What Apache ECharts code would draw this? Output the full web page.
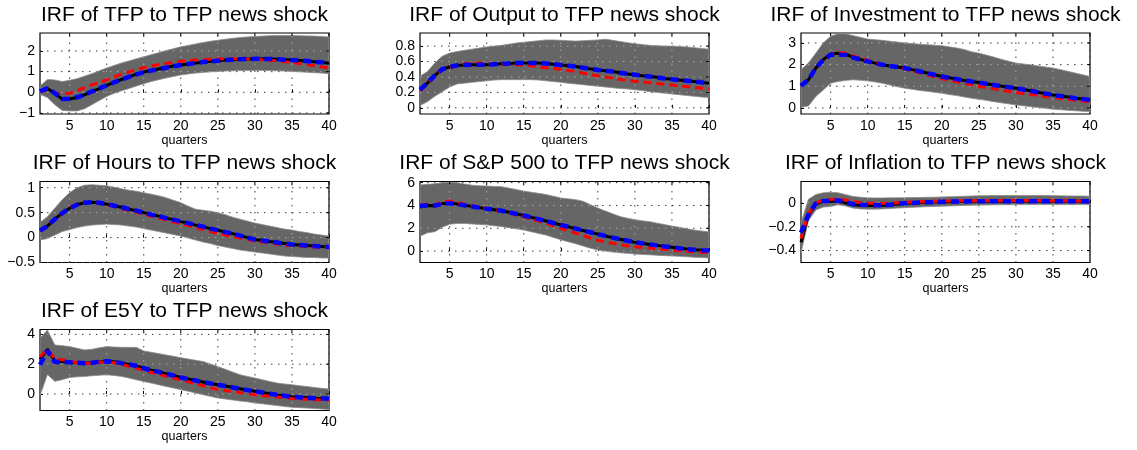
<!DOCTYPE html>
<html><head><meta charset="utf-8">
<script src="https://cdn.jsdelivr.net/npm/echarts@6/dist/echarts.min.js"></script>
<style>html,body{margin:0;padding:0;background:#fff}#c{width:1137px;height:450px}</style>
</head><body><div id="c"></div>
<script>
// ---------- data ----------
const quarters = [1,2,3,4,5,6,7,8,9,10,11,12,13,14,15,16,17,18,19,20,21,22,23,24,25,26,27,28,29,30,31,32,33,34,35,36,37,38,39,40];
const xTicks = [5,10,15,20,25,30,35,40];

const tfpPoint  = [0.05,0.18,-0.05,-0.33,-0.32,-0.25,-0.12,0.03,0.18,0.33,0.48,0.62,0.75,0.88,0.98,1.06,1.13,1.20,1.27,1.32,1.37,1.42,1.46,1.50,1.53,1.56,1.58,1.60,1.61,1.62,1.62,1.61,1.60,1.58,1.56,1.54,1.51,1.48,1.45,1.41];
const tfpMedian = [0.05,0.19,-0.04,-0.32,-0.31,-0.24,-0.11,0.04,0.19,0.34,0.48,0.62,0.75,0.87,0.97,1.05,1.12,1.19,1.26,1.32,1.37,1.42,1.46,1.50,1.53,1.56,1.58,1.60,1.61,1.62,1.62,1.61,1.60,1.58,1.56,1.54,1.51,1.48,1.45,1.41];
const tfpAlt    = [0.05,0.12,-0.02,-0.10,-0.04,0.08,0.22,0.36,0.48,0.60,0.74,0.88,0.99,1.10,1.19,1.27,1.34,1.40,1.45,1.50,1.53,1.56,1.58,1.60,1.61,1.62,1.62,1.62,1.61,1.60,1.58,1.55,1.52,1.48,1.44,1.39,1.34,1.29,1.23,1.18];
const tfpHi     = [0.30,0.62,0.60,0.52,0.58,0.66,0.78,0.90,1.04,1.18,1.30,1.42,1.52,1.62,1.72,1.82,1.92,2.02,2.11,2.20,2.27,2.34,2.41,2.47,2.52,2.57,2.61,2.65,2.68,2.70,2.72,2.74,2.75,2.75,2.75,2.74,2.73,2.72,2.70,2.68];
const tfpLo     = [-0.10,-0.25,-0.60,-0.88,-0.90,-0.90,-0.80,-0.60,-0.40,-0.20,-0.05,0.07,0.18,0.30,0.42,0.52,0.61,0.69,0.77,0.84,0.89,0.93,0.96,0.99,1.01,1.03,1.04,1.05,1.06,1.06,1.06,1.05,1.04,1.03,1.01,0.99,0.97,0.95,0.93,0.90];
const tfpYTicks = [-1,0,1,2];

const outPoint  = [0.235,0.32,0.42,0.50,0.53,0.55,0.555,0.56,0.56,0.56,0.565,0.57,0.575,0.58,0.58,0.58,0.58,0.575,0.565,0.555,0.545,0.535,0.52,0.505,0.49,0.48,0.47,0.455,0.44,0.43,0.415,0.405,0.395,0.38,0.37,0.36,0.35,0.34,0.33,0.32];
const outMedian = [0.235,0.32,0.42,0.50,0.53,0.55,0.555,0.56,0.56,0.56,0.565,0.57,0.575,0.58,0.58,0.58,0.58,0.575,0.565,0.555,0.545,0.535,0.52,0.505,0.49,0.48,0.47,0.455,0.44,0.43,0.415,0.405,0.395,0.38,0.37,0.36,0.35,0.34,0.33,0.32];
const outAlt    = [0.22,0.31,0.42,0.49,0.52,0.55,0.57,0.58,0.58,0.575,0.57,0.565,0.565,0.56,0.555,0.545,0.53,0.52,0.51,0.50,0.485,0.47,0.45,0.43,0.415,0.40,0.385,0.37,0.355,0.345,0.335,0.325,0.315,0.305,0.295,0.285,0.275,0.265,0.255,0.245];
const outHi     = [0.41,0.47,0.58,0.67,0.71,0.73,0.745,0.76,0.775,0.79,0.80,0.81,0.825,0.84,0.85,0.86,0.87,0.88,0.88,0.875,0.87,0.865,0.87,0.875,0.88,0.89,0.875,0.86,0.845,0.83,0.82,0.81,0.805,0.80,0.80,0.795,0.79,0.78,0.77,0.76];
const outLo     = [0.03,0.08,0.15,0.21,0.27,0.31,0.32,0.33,0.34,0.35,0.36,0.365,0.365,0.365,0.365,0.365,0.36,0.35,0.34,0.33,0.32,0.31,0.30,0.29,0.28,0.27,0.26,0.25,0.245,0.235,0.225,0.21,0.20,0.19,0.18,0.17,0.16,0.15,0.14,0.135];
const outYTicks = [0,0.2,0.4,0.6,0.8];

const invPoint  = [1.02,1.30,1.84,2.23,2.49,2.53,2.49,2.35,2.24,2.15,2.07,1.99,1.94,1.89,1.84,1.77,1.69,1.61,1.53,1.45,1.39,1.33,1.27,1.22,1.17,1.12,1.06,1.01,0.96,0.91,0.85,0.79,0.72,0.66,0.60,0.55,0.50,0.45,0.41,0.37];
const invMedian = [1.02,1.30,1.84,2.22,2.45,2.46,2.45,2.33,2.24,2.15,2.07,1.99,1.94,1.89,1.84,1.77,1.69,1.61,1.53,1.45,1.39,1.33,1.27,1.22,1.17,1.12,1.06,1.01,0.96,0.91,0.85,0.79,0.72,0.66,0.60,0.55,0.50,0.45,0.41,0.37];
const invAlt    = [1.02,1.35,1.85,2.20,2.45,2.57,2.52,2.40,2.30,2.20,2.10,2.02,1.95,1.88,1.80,1.71,1.62,1.53,1.44,1.35,1.28,1.21,1.14,1.07,1.00,0.94,0.88,0.82,0.77,0.72,0.67,0.62,0.58,0.53,0.48,0.44,0.40,0.36,0.32,0.28];
const invHi     = [1.76,2.07,2.53,3.00,3.31,3.42,3.42,3.34,3.26,3.18,3.15,3.12,3.08,3.04,3.00,2.97,2.94,2.92,2.90,2.87,2.82,2.77,2.70,2.60,2.53,2.44,2.35,2.25,2.16,2.07,2.03,1.99,1.94,1.89,1.84,1.77,1.69,1.61,1.53,1.45];
const invLo     = [0.03,0.09,0.53,0.83,1.14,1.22,1.27,1.30,1.28,1.25,1.20,1.14,1.06,0.98,0.91,0.86,0.81,0.77,0.72,0.68,0.62,0.57,0.51,0.45,0.40,0.35,0.29,0.24,0.19,0.14,0.10,0.06,0.02,-0.02,-0.06,-0.08,-0.11,-0.13,-0.15,-0.17];
const invYTicks = [0,1,2,3];

const hrsPoint  = [0.14,0.23,0.37,0.49,0.59,0.66,0.70,0.71,0.70,0.67,0.64,0.61,0.57,0.54,0.50,0.46,0.43,0.39,0.36,0.32,0.29,0.25,0.22,0.18,0.15,0.11,0.08,0.04,0.00,-0.04,-0.06,-0.08,-0.10,-0.12,-0.14,-0.15,-0.16,-0.17,-0.18,-0.19];
const hrsMedian = [0.14,0.23,0.37,0.49,0.59,0.66,0.70,0.71,0.70,0.67,0.64,0.61,0.57,0.54,0.50,0.46,0.43,0.39,0.36,0.32,0.29,0.25,0.22,0.18,0.15,0.11,0.08,0.04,0.00,-0.04,-0.06,-0.08,-0.10,-0.12,-0.14,-0.15,-0.16,-0.17,-0.18,-0.19];
const hrsAlt    = [0.13,0.23,0.38,0.50,0.60,0.67,0.70,0.71,0.69,0.66,0.62,0.58,0.55,0.51,0.47,0.43,0.39,0.35,0.31,0.28,0.24,0.20,0.16,0.12,0.08,0.05,0.02,-0.01,-0.04,-0.07,-0.09,-0.11,-0.13,-0.15,-0.16,-0.17,-0.18,-0.19,-0.19,-0.19];
const hrsHi     = [0.30,0.42,0.59,0.76,0.90,1.00,1.05,1.06,1.05,1.04,1.01,0.98,0.95,0.93,0.90,0.87,0.84,0.80,0.75,0.70,0.63,0.57,0.55,0.53,0.50,0.46,0.41,0.37,0.33,0.29,0.26,0.23,0.20,0.17,0.15,0.12,0.10,0.07,0.05,0.03];
const hrsLo     = [-0.05,-0.02,0.05,0.12,0.16,0.20,0.23,0.25,0.26,0.27,0.26,0.25,0.23,0.21,0.18,0.15,0.12,0.09,0.06,0.03,-0.01,-0.05,-0.09,-0.12,-0.16,-0.19,-0.22,-0.25,-0.27,-0.29,-0.31,-0.33,-0.35,-0.37,-0.38,-0.39,-0.40,-0.40,-0.41,-0.41];
const hrsYTicks = [-0.5,0,0.5,1];

const spPoint  = [3.86,4.00,3.98,4.16,4.22,4.13,4.02,3.92,3.81,3.71,3.62,3.53,3.40,3.26,3.12,2.96,2.80,2.64,2.46,2.29,2.13,1.97,1.81,1.65,1.49,1.33,1.18,1.04,0.90,0.78,0.68,0.58,0.50,0.41,0.33,0.25,0.18,0.12,0.08,0.06];
const spMedian = [3.95,4.02,3.99,4.15,4.20,4.12,4.01,3.91,3.81,3.71,3.62,3.53,3.40,3.26,3.12,2.96,2.80,2.64,2.46,2.29,2.13,1.97,1.81,1.65,1.49,1.33,1.18,1.04,0.90,0.78,0.68,0.58,0.50,0.41,0.33,0.25,0.18,0.12,0.08,0.06];
const spAlt    = [4.05,4.10,4.05,4.30,4.40,4.25,4.10,4.00,3.87,3.75,3.62,3.50,3.34,3.17,3.00,2.82,2.63,2.45,2.22,2.00,1.78,1.57,1.38,1.15,0.95,0.82,0.68,0.55,0.46,0.38,0.32,0.26,0.20,0.14,0.08,0.03,-0.02,-0.06,-0.10,-0.13];
const spHi     = [5.79,5.85,5.90,6.00,6.05,6.00,5.88,5.78,5.72,5.70,5.67,5.64,5.52,5.39,5.26,5.16,5.06,4.96,4.81,4.66,4.58,4.51,4.37,4.07,3.77,3.52,3.27,3.03,2.88,2.75,2.65,2.58,2.45,2.32,2.20,2.08,1.96,1.84,1.76,1.68];
const spLo     = [1.30,1.60,1.70,2.10,2.35,2.42,2.42,2.38,2.34,2.30,2.22,2.15,2.05,1.95,1.85,1.70,1.55,1.40,1.20,1.00,0.82,0.65,0.45,0.25,0.10,0.00,-0.08,-0.15,-0.20,-0.25,-0.29,-0.33,-0.37,-0.40,-0.43,-0.46,-0.50,-0.54,-0.57,-0.60];
const spYTicks = [0,2,4,6];

const inflPoint  = [-0.33,-0.10,-0.01,0.015,0.012,0.02,0.0,-0.015,-0.02,-0.022,-0.022,-0.02,-0.015,-0.008,-0.003,0.0,0.003,0.005,0.007,0.009,0.011,0.012,0.013,0.014,0.015,0.015,0.015,0.015,0.015,0.015,0.015,0.015,0.015,0.015,0.015,0.015,0.015,0.015,0.015,0.015];
const inflMedian = [-0.25,-0.10,-0.005,0.017,0.015,0.02,0.005,-0.01,-0.015,-0.018,-0.02,-0.02,-0.015,-0.008,-0.003,0.0,0.003,0.005,0.007,0.009,0.011,0.012,0.013,0.014,0.015,0.015,0.015,0.015,0.015,0.015,0.015,0.015,0.015,0.015,0.015,0.015,0.015,0.015,0.015,0.015];
const inflAlt    = [-0.30,-0.09,0.0,0.022,0.028,0.034,0.025,0.012,0.003,0.0,-0.004,-0.005,-0.003,0.001,0.005,0.008,0.01,0.012,0.014,0.015,0.016,0.017,0.018,0.019,0.019,0.02,0.02,0.02,0.02,0.02,0.02,0.02,0.02,0.019,0.019,0.018,0.018,0.017,0.016,0.015];
const inflHi     = [-0.17,0.03,0.07,0.085,0.09,0.085,0.07,0.055,0.048,0.043,0.042,0.042,0.043,0.043,0.044,0.045,0.046,0.047,0.048,0.05,0.052,0.054,0.056,0.058,0.06,0.061,0.062,0.062,0.063,0.063,0.063,0.063,0.062,0.062,0.061,0.06,0.059,0.058,0.058,0.057];
const inflLo     = [-0.42,-0.15,-0.06,-0.035,-0.03,-0.015,-0.025,-0.043,-0.05,-0.052,-0.052,-0.05,-0.047,-0.043,-0.04,-0.037,-0.034,-0.031,-0.029,-0.027,-0.025,-0.023,-0.021,-0.019,-0.018,-0.017,-0.016,-0.015,-0.015,-0.014,-0.014,-0.014,-0.014,-0.014,-0.014,-0.014,-0.014,-0.014,-0.014,-0.014];
const inflYTicks = [-0.4,-0.2,0];

const e5Point  = [2.33,3.00,2.22,2.18,2.15,2.10,2.07,2.10,2.15,2.20,2.17,2.07,1.98,1.89,1.73,1.60,1.48,1.36,1.24,1.11,1.00,0.90,0.80,0.71,0.62,0.53,0.44,0.35,0.26,0.18,0.10,0.02,-0.06,-0.12,-0.18,-0.22,-0.25,-0.28,-0.30,-0.31];
const e5Median = [1.96,2.90,2.15,2.15,2.13,2.09,2.07,2.10,2.15,2.20,2.17,2.07,1.98,1.89,1.73,1.60,1.48,1.36,1.24,1.11,1.00,0.90,0.80,0.71,0.62,0.53,0.44,0.35,0.26,0.18,0.10,0.02,-0.06,-0.12,-0.18,-0.22,-0.25,-0.28,-0.30,-0.31];
const e5Alt    = [2.50,3.00,2.35,2.30,2.20,2.12,2.05,2.08,2.13,2.15,2.10,2.00,1.85,1.72,1.60,1.46,1.33,1.20,1.07,0.95,0.82,0.69,0.56,0.43,0.30,0.23,0.16,0.09,0.02,-0.05,-0.10,-0.15,-0.20,-0.25,-0.30,-0.33,-0.36,-0.38,-0.40,-0.42];
const e5Hi     = [3.73,4.29,3.29,3.24,3.18,3.07,2.96,3.00,3.10,3.18,3.15,3.13,3.13,3.13,2.89,2.80,2.71,2.62,2.53,2.44,2.35,2.26,2.18,2.01,1.84,1.66,1.47,1.29,1.18,1.07,0.96,0.84,0.73,0.67,0.62,0.56,0.50,0.44,0.38,0.33];
const e5Lo     = [-0.10,1.30,0.85,0.96,1.11,1.15,1.18,1.22,1.26,1.29,1.24,1.18,1.07,0.95,0.84,0.73,0.62,0.51,0.40,0.29,0.18,0.07,-0.05,-0.16,-0.27,-0.34,-0.40,-0.47,-0.53,-0.60,-0.66,-0.72,-0.78,-0.84,-0.89,-0.92,-0.95,-0.98,-1.01,-1.04];
const e5YTicks = [0,2,4];

// ---------- layout ----------
const FONT = '"Liberation Sans", Arial, Helvetica, sans-serif';
const colLeft = [40, 420, 801];
const rowTop = [33, 181.5, 329.5];
const titleTop = [4.5, 153, 301];
const PW = 289, PH = 81;

const panels = [
  {title:'IRF of TFP to TFP news shock', c:0, r:0, point:tfpPoint, median:tfpMedian, alt:tfpAlt, hi:tfpHi, lo:tfpLo, yTicks:tfpYTicks, yMin:-1.05, yMax:2.87},
  {title:'IRF of Output to TFP news shock', c:1, r:0, point:outPoint, median:outMedian, alt:outAlt, hi:outHi, lo:outLo, yTicks:outYTicks, yMin:-0.08, yMax:0.97},
  {title:'IRF of Investment to TFP news shock', c:2, r:0, point:invPoint, median:invMedian, alt:invAlt, hi:invHi, lo:invLo, yTicks:invYTicks, yMin:-0.28, yMax:3.46},
  {title:'IRF of Hours to TFP news shock', c:0, r:1, point:hrsPoint, median:hrsMedian, alt:hrsAlt, hi:hrsHi, lo:hrsLo, yTicks:hrsYTicks, yMin:-0.5, yMax:1.125},
  {title:'IRF of S&P 500 to TFP news shock', c:1, r:1, point:spPoint, median:spMedian, alt:spAlt, hi:spHi, lo:spLo, yTicks:spYTicks, yMin:-1.0, yMax:6.1},
  {title:'IRF of Inflation to TFP news shock', c:2, r:1, point:inflPoint, median:inflMedian, alt:inflAlt, hi:inflHi, lo:inflLo, yTicks:inflYTicks, yMin:-0.5, yMax:0.18},
  {title:'IRF of E5Y to TFP news shock', c:0, r:2, point:e5Point, median:e5Median, alt:e5Alt, hi:e5Hi, lo:e5Lo, yTicks:e5YTicks, yMin:-1.11, yMax:4.33}
];

const minus = v => String(v).replace('-', '\u2212');
const pairs = arr => quarters.map((q, i) => [q, arr[i]]);
const DOTS = [1.5, 5.5];

const option = {animation:false, backgroundColor:'#fff', title:[], grid:[], xAxis:[], yAxis:[], series:[]};

panels.forEach((p, i) => {
  const left = colLeft[p.c], top = rowTop[p.r];
  option.title.push({text:p.title, left:left + PW/2, top:titleTop[p.r], textAlign:'center', padding:0,
    textStyle:{fontFamily:FONT, fontSize:21, fontWeight:'normal', color:'#000'}});
  option.grid.push({left:left, top:top, width:PW, height:PH, show:true, borderColor:'#000', borderWidth:1.2, containLabel:false});
  option.xAxis.push({gridIndex:i, type:'value', min:1, max:40,
    axisLine:{show:false}, splitLine:{show:false},
    axisTick:{show:true, inside:true, length:3, customValues:xTicks, lineStyle:{color:'#000'}},
    axisLabel:{customValues:xTicks, fontFamily:FONT, fontSize:14, color:'#000', margin:5},
    name:'quarters', nameLocation:'middle', nameGap:19,
    nameTextStyle:{fontFamily:FONT, fontSize:12.5, color:'#000'}});
  option.yAxis.push({gridIndex:i, type:'value', min:p.yMin, max:p.yMax,
    axisLine:{show:false}, splitLine:{show:false},
    axisTick:{show:true, inside:true, length:3, customValues:p.yTicks, lineStyle:{color:'#000'}},
    axisLabel:{customValues:p.yTicks, fontFamily:FONT, fontSize:14, color:'#000', margin:5, formatter:minus}});
  // grid dots + confidence band (polygon through the axis scales) + inner ticks on top/right
  option.series.push({type:'custom', xAxisIndex:i, yAxisIndex:i, silent:true, z:2, clip:false,
    data:[[quarters[0], p.lo[0]]], encode:{x:0, y:1},
    renderItem:(params, api) => {
      const bl = api.coord([1, p.yMin]), tr = api.coord([40, p.yMax]);
      const L = bl[0], B = bl[1], R = tr[0], T = tr[1];
      const gridSet = color => {
        const arr = [];
        xTicks.forEach(v => { const c = api.coord([v, p.yMin]);
          arr.push({type:'line', shape:{x1:c[0], y1:B, x2:c[0], y2:T}, style:{stroke:color, lineWidth:1, lineDash:DOTS}}); });
        p.yTicks.forEach(v => { const c = api.coord([1, v]);
          arr.push({type:'line', shape:{x1:L, y1:c[1], x2:R, y2:c[1]}, style:{stroke:color, lineWidth:1, lineDash:DOTS}}); });
        return arr;
      };
      const pts = [];
      for (let k = 0; k < quarters.length; k++) pts.push(api.coord([quarters[k], p.hi[k]]));
      for (let k = quarters.length - 1; k >= 0; k--) pts.push(api.coord([quarters[k], p.lo[k]]));
      const clipRect = {type:'rect', shape:{x:L, y:T, width:R - L, height:B - T}};
      const ticks = [];
      xTicks.forEach(v => { const c = api.coord([v, p.yMax]);
        ticks.push({type:'line', shape:{x1:c[0], y1:T, x2:c[0], y2:T + 3}, style:{stroke:'#000', lineWidth:1}}); });
      p.yTicks.forEach(v => { const c = api.coord([40, v]);
        ticks.push({type:'line', shape:{x1:R, y1:c[1], x2:R - 3, y2:c[1]}, style:{stroke:'#000', lineWidth:1}}); });
      return {type:'group', children:[
        {type:'group', children:gridSet('#3c3c3c')},
        {type:'group', clipPath:clipRect, children:[
          {type:'polygon', shape:{points:pts}, style:{fill:'#666666', stroke:'#8c8c8c', lineWidth:0.8}}
        ]},
        {type:'group', clipPath:{type:'polygon', shape:{points:pts}}, children:gridSet('#a8a8a8')},
        {type:'group', children:ticks}
      ]};
    }});
  option.series.push({type:'line', xAxisIndex:i, yAxisIndex:i, data:pairs(p.point), symbol:'none', silent:true, z:4,
    lineStyle:{color:'#000', width:3}, emphasis:{disabled:true}});
  option.series.push({type:'line', xAxisIndex:i, yAxisIndex:i, data:pairs(p.alt), symbol:'none', silent:true, z:5,
    lineStyle:{color:'#ff0000', width:3, type:[8,5]}, emphasis:{disabled:true}});
  option.series.push({type:'line', xAxisIndex:i, yAxisIndex:i, data:pairs(p.median), symbol:'none', silent:true, z:6,
    lineStyle:{color:'#0000ff', width:4.5, type:[8,5]}, emphasis:{disabled:true}});
});

const chart = echarts.init(document.getElementById('c'), null, {renderer:'canvas'});
chart.setOption(option);
</script>
</body></html>
